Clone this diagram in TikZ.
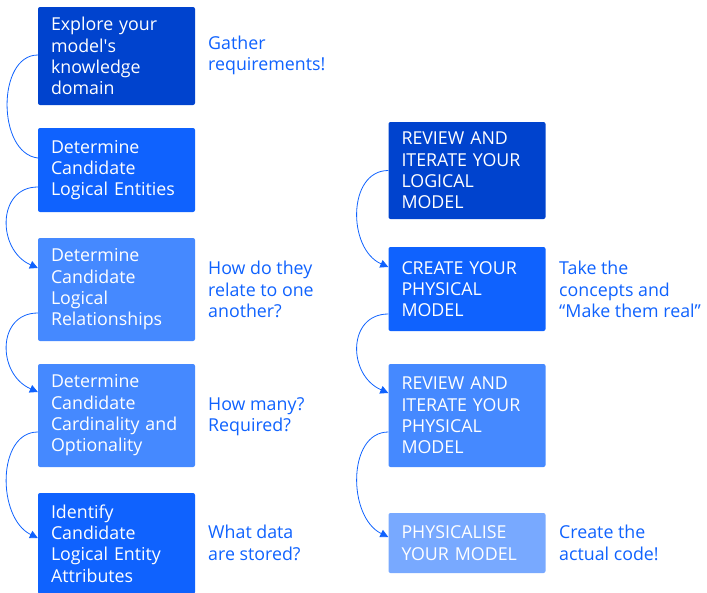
\documentclass[tikz,border=0pt]{standalone}
\usepackage{fontspec}
\setmainfont{Open Sans}
\usetikzlibrary{arrows.meta}
\definecolor{blueA}{HTML}{0043CE}
\definecolor{blueB}{HTML}{0F62FE}
\definecolor{blueC}{HTML}{4589FF}
\definecolor{blueD}{HTML}{78A9FF}
\begin{document}
\begin{tikzpicture}[x=1pt,y=-1pt,
  box/.style={rectangle,rounded corners=2pt,text=white,align=left,
    text width=131pt,inner xsep=13pt,inner ysep=0pt,minimum width=157pt,
    font=\fontsize{17.8}{21.3}\selectfont},
  note/.style={anchor=west,align=left,text=blueB,inner sep=0pt,
    font=\fontsize{17.8}{21.3}\selectfont},
  link/.style={draw=blueB,line width=0.8pt},
  arr/.style={link,-{Triangle[length=8pt,width=8pt]}}]
\useasboundingbox (0,0) rectangle (707,592);

% left column of steps
\node[box,fill=blueA,minimum height=98pt] (b1) at (116.5,56) {Explore your\\model\textquotesingle s\\knowledge\\domain};
\node[box,fill=blueB,minimum height=84pt] (b2) at (116.5,170) {Determine\\Candidate\\Logical Entities};
\node[box,fill=blueC,minimum height=103pt] (b3) at (116.5,289.5) {Determine\\Candidate\\Logical\\Relationships};
\node[box,fill=blueC,minimum height=103pt] (b4) at (116.5,415.5) {Determine\\Candidate\\Cardinality and\\Optionality};
\node[box,fill=blueB,minimum height=101pt] (b5) at (116.5,543.5) {Identify\\Candidate\\Logical Entity\\Attributes};

% right column of steps
\node[box,fill=blueA,minimum height=97pt] (r1) at (467,170.5) {REVIEW AND\\ITERATE YOUR\\LOGICAL\\MODEL};
\node[box,fill=blueB,minimum height=84pt] (r2) at (467,289) {CREATE YOUR\\PHYSICAL\\MODEL};
\node[box,fill=blueC,minimum height=103pt] (r3) at (467,415.5) {REVIEW AND\\ITERATE YOUR\\PHYSICAL\\MODEL};
\node[box,fill=blueD,minimum height=60pt] (r4) at (467,543) {PHYSICALISE\\YOUR MODEL};

% side notes
\node[note] (n1) at (208,55.5) {Gather\\requirements!};
\node[note] (n3) at (208,289.5) {How do they\\relate to one\\another?};
\node[note] (n4) at (208,417) {How many?\\Required?};
\node[note] (n5) at (208,543) {What data\\are stored?};
\node[note] (m2) at (559,289.5) {Take the\\concepts and\\“Make them real”};
\node[note] (m4) at (559,543) {Create the\\actual code!};

% connectors
\draw[link] ([yshift=1pt]b1.west) .. controls +(-41,0) and +(-41,-5) .. ([yshift=12pt]b2.west);
\draw[arr] ([yshift=-17pt]b2.west) .. controls +(-41,0) and +(-41,-18) .. ([yshift=21.5pt]b3.west);
\draw[arr] ([yshift=-23.5pt]b3.west) .. controls +(-41,0) and +(-41,-18) .. ([yshift=23.5pt]b4.west);
\draw[arr] ([yshift=-16.5pt]b4.west) .. controls +(-41,0) and +(-41,-20) .. ([yshift=5.5pt]b5.west);
\draw[arr] (r1.west) .. controls +(-41,0) and +(-41,-18) .. ([yshift=22pt]r2.west);
\draw[arr] ([yshift=-25pt]r2.west) .. controls +(-41,0) and +(-41,-18) .. ([yshift=22.5pt]r3.west);
\draw[arr] ([yshift=-16.5pt]r3.west) .. controls +(-41,0) and +(-41,-20) .. ([yshift=6pt]r4.west);
\end{tikzpicture}
\end{document}
